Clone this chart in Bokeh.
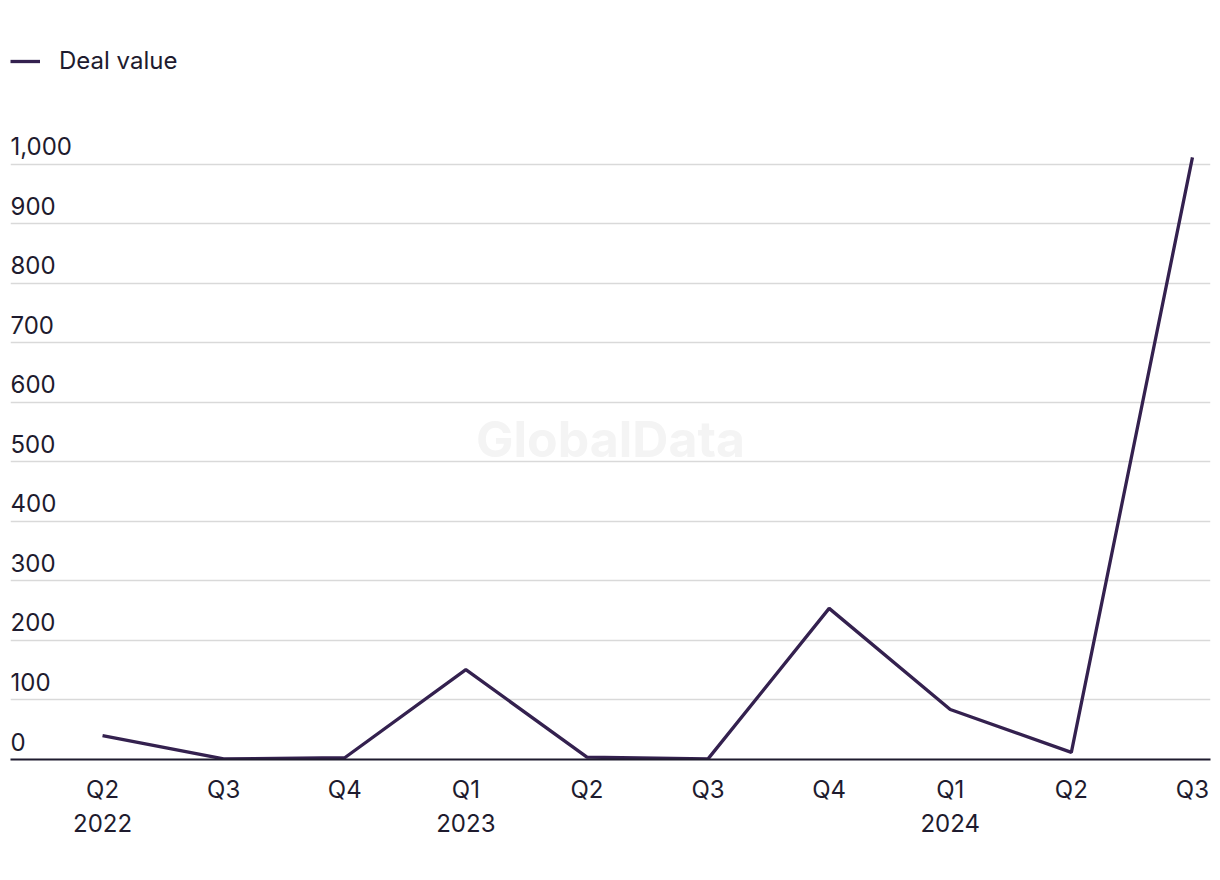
from bokeh.plotting import figure
from bokeh.models import Range1d, Legend, LegendItem, Label, FixedTicker, ColumnDataSource
from bokeh.core.properties import value
from bokeh.embed import file_html
from bokeh.resources import INLINE

quarters = ["Q2\n2022", "Q3", "Q4", "Q1\n2023", "Q2", "Q3", "Q4", "Q1\n2024", "Q2", "Q3"]
deal_value = [40, 1, 3, 151, 4, 1, 254, 84, 12, 1012]
y_ticks = [0, 100, 200, 300, 400, 500, 600, 700, 800, 900, 1000]
y_tick_labels = ["0", "100", "200", "300", "400", "500", "600", "700", "800", "900", "1,000"]

FONT = "Inter"
TEXT = "#1e1b2e"
LINE = "#34214f"

xs = list(range(len(quarters)))

p = figure(width=1220, height=880, output_backend="svg", toolbar_location=None,
           x_range=Range1d(-0.76, 9.149), y_range=Range1d(0, 1208.4),
           min_border_left=10, min_border_right=10, min_border_top=40, min_border_bottom=121)
p.outline_line_color = None
p.background_fill_color = "white"
p.border_fill_color = "white"

# axes
p.yaxis.visible = False
p.xaxis.ticker = FixedTicker(ticks=xs)
p.xaxis.major_label_overrides = {i: q for i, q in zip(xs, quarters)}
p.xaxis.major_tick_line_color = None
p.xaxis.minor_tick_line_color = None
p.xaxis.axis_line_color = TEXT
p.xaxis.axis_line_width = 2
p.xaxis.major_label_text_font = FONT
p.xaxis.major_label_text_font_size = "24px"
p.xaxis.major_label_text_color = TEXT
p.xaxis.major_label_standoff = 9
p.xaxis.major_label_text_line_height = 1.2

p.xgrid.visible = False
p.ygrid.ticker = FixedTicker(ticks=y_ticks[1:])
p.ygrid.grid_line_color = "#d9d9d9"
p.ygrid.grid_line_width = 1.5

# watermark
p.add_layout(Label(x=600, y=321, x_units="screen", y_units="screen", text="GlobalData",
                   text_font=FONT, text_font_style="bold", text_font_size="50px",
                   text_color="#f4f4f4", text_align="center", text_baseline="middle",
                   level="underlay"))

# y tick labels above gridlines
ysrc = ColumnDataSource(dict(x=[p.x_range.start] * len(y_ticks), y=y_ticks, t=y_tick_labels))
p.text(x="x", y="y", text="t", source=ysrc, text_font=value(FONT), text_font_size="24px",
       text_color=TEXT, text_align="left", text_baseline="bottom", y_offset=-9)

r = p.line(xs, deal_value, line_color=LINE, line_width=3.3)

legend = Legend(items=[LegendItem(label="Deal value", renderers=[r])],
                location=(0, 684), orientation="horizontal",
                margin=0, padding=0, glyph_width=30, glyph_height=26, label_height=26,
                label_standoff=19, border_line_alpha=0, background_fill_alpha=0,
                label_text_font=FONT, label_text_font_size="24px", label_text_color=TEXT)
p.add_layout(legend)

open("out.html", "w").write(file_html(p, INLINE))
